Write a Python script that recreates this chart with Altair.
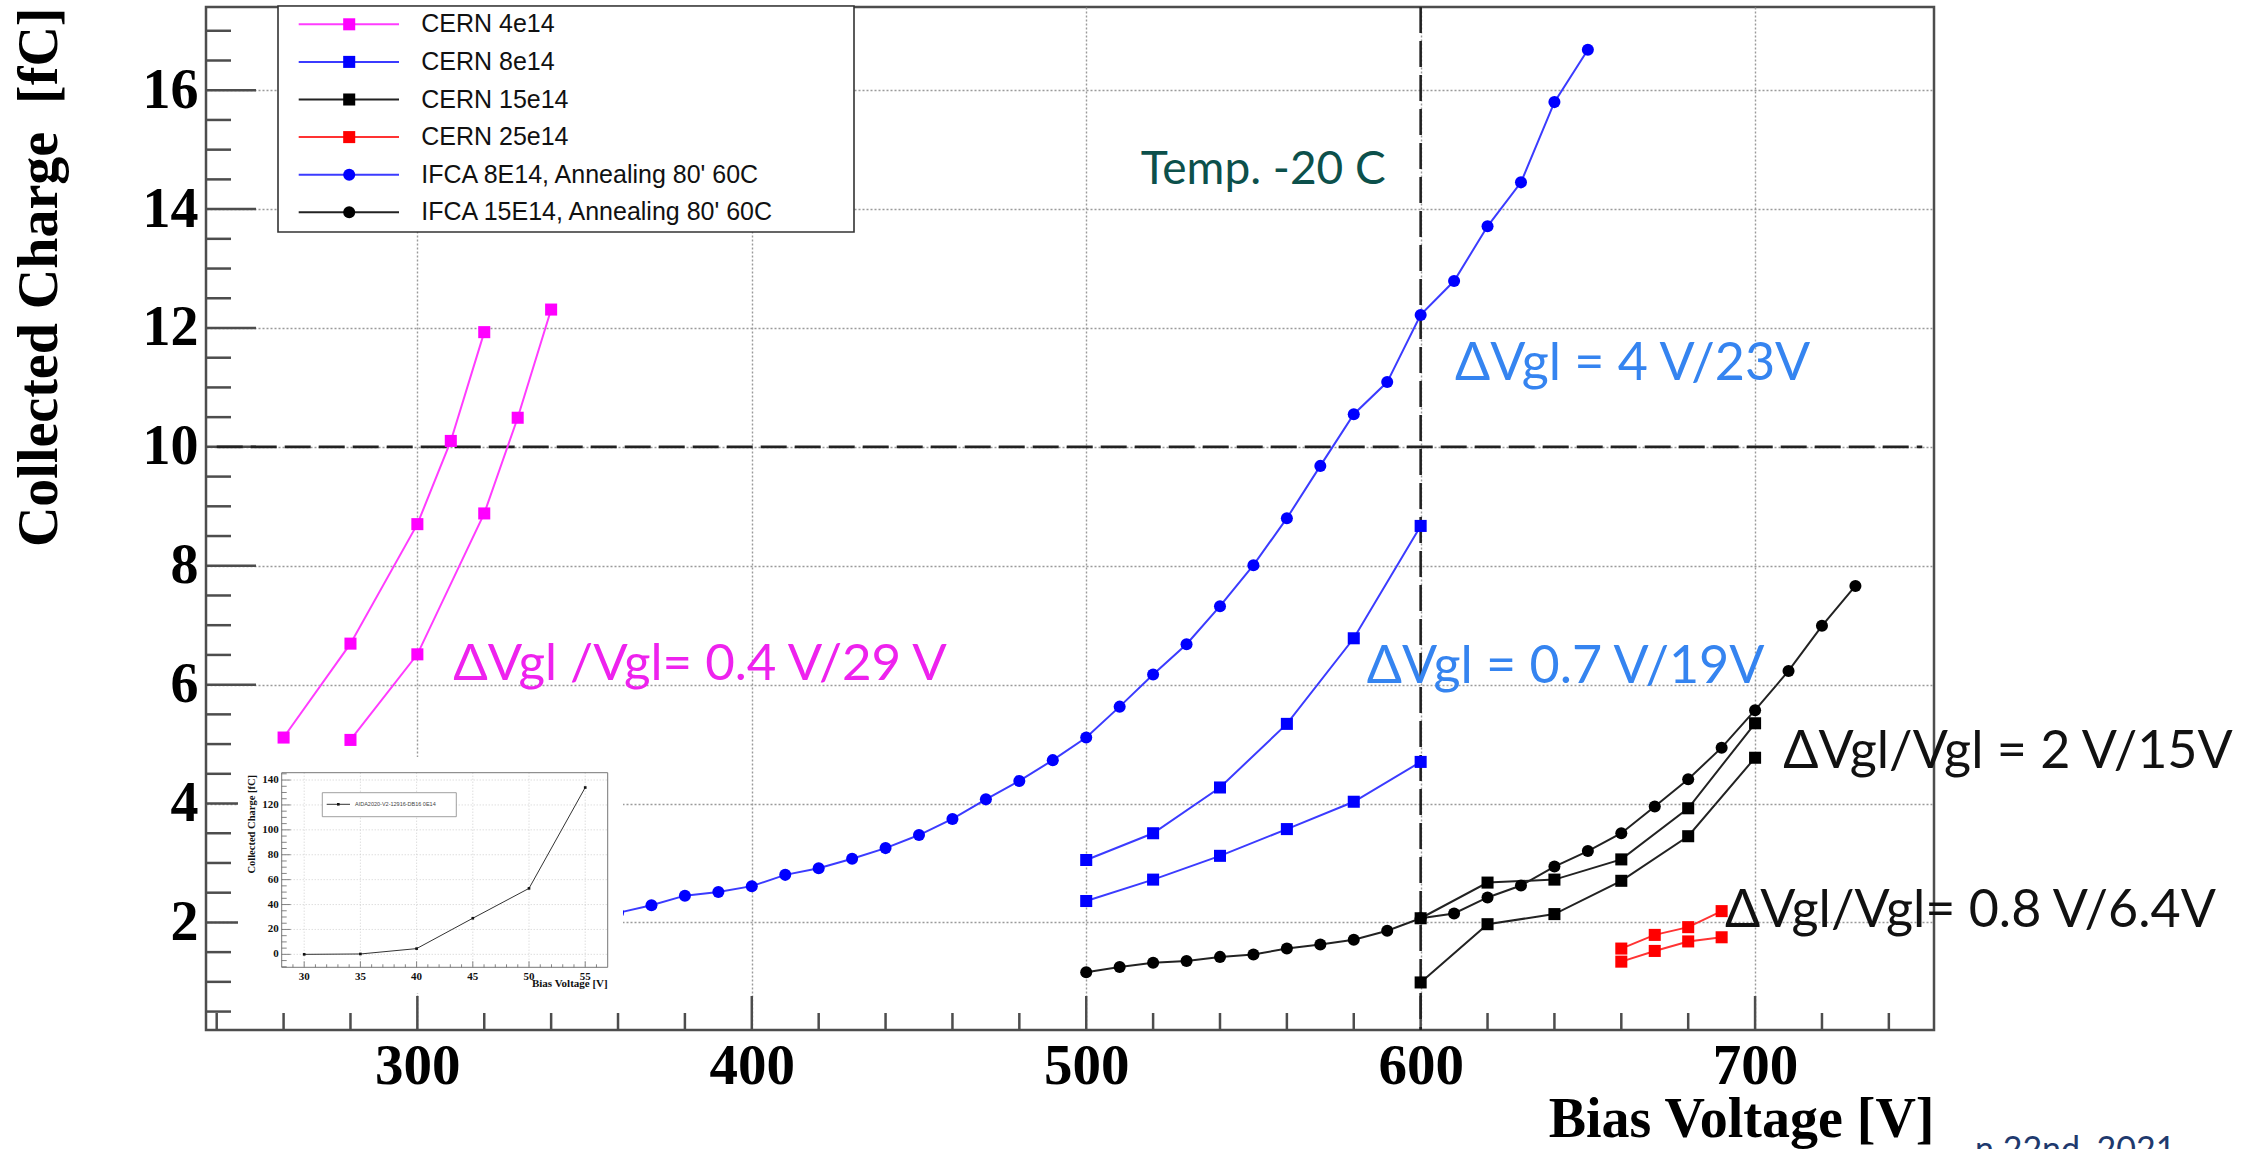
import altair as alt
import pandas as pd

# ---------------------------------------------------------------- data ----
# CERN 4e14 (two devices)
cern4_a_v = [260, 280, 300, 310, 320]
cern4_a_q = [5.11, 6.69, 8.70, 10.10, 11.93]
cern4_b_v = [280, 300, 320, 330, 340]
cern4_b_q = [5.07, 6.51, 8.88, 10.49, 12.31]

# CERN 8e14 (two devices)
cern8_a_v = [500, 520, 540, 560, 580, 600]
cern8_a_q = [3.05, 3.50, 4.27, 5.34, 6.78, 8.67]
cern8_b_v = [500, 520, 540, 560, 580, 600]
cern8_b_q = [2.36, 2.72, 3.12, 3.57, 4.03, 4.70]

# CERN 15e14 (two devices)
cern15_a_v = [600, 620, 640, 660, 680, 700]
cern15_a_q = [2.07, 2.67, 2.72, 3.06, 3.92, 5.35]
cern15_b_v = [600, 620, 640, 660, 680, 700]
cern15_b_q = [0.99, 1.97, 2.14, 2.70, 3.45, 4.77]

# CERN 25e14 (two devices)
cern25_a_v = [660, 670, 680, 690]
cern25_a_q = [1.56, 1.79, 1.92, 2.19]
cern25_b_v = [660, 670, 680, 690]
cern25_b_q = [1.34, 1.52, 1.68, 1.75]

# IFCA 8E14, annealed 80' at 60C
ifca8_v = [360, 370, 380, 390, 400, 410, 420, 430, 440, 450, 460, 470, 480,
           490, 500, 510, 520, 530, 540, 550, 560, 570, 580, 590, 600, 610,
           620, 630, 640, 650]
ifca8_q = [2.16, 2.29, 2.45, 2.51, 2.61, 2.80, 2.91, 3.07, 3.25, 3.47, 3.74,
           4.07, 4.38, 4.73, 5.11, 5.63, 6.17, 6.68, 7.32, 8.01, 8.80, 9.68,
           10.55, 11.09, 12.22, 12.79, 13.71, 14.45, 15.80, 16.68]

# IFCA 15E14, annealed 80' at 60C
ifca15_v = [500, 510, 520, 530, 540, 550, 560, 570, 580, 590, 600, 610, 620,
            630, 640, 650, 660, 670, 680, 690, 700, 710, 720, 730]
ifca15_q = [1.16, 1.25, 1.32, 1.35, 1.42, 1.46, 1.56, 1.63, 1.71, 1.86, 2.07,
            2.15, 2.42, 2.62, 2.94, 3.20, 3.50, 3.95, 4.41, 4.94, 5.57, 6.23,
            6.99, 7.66]

# unirradiated reference sample (small panel)
inset_v = [30, 35, 40, 45, 50, 55]
inset_q = [0.0, 0.3, 4.6, 29.0, 53.0, 134.0]
inset_label = "AIDA2020-V2-12916-DB16 0E14"

# axis tick values
x_major = [300, 400, 500, 600, 700]
x_minor = [240, 260, 280, 320, 340, 360, 380, 420, 440, 460, 480, 520, 540,
           560, 580, 620, 640, 660, 680, 720, 740]
y_major = [2, 4, 6, 8, 10, 12, 14, 16]
y_minor = [0.5, 1, 1.5, 2.5, 3, 3.5, 4.5, 5, 5.5, 6.5, 7, 7.5, 8.5, 9, 9.5,
           10.5, 11, 11.5, 12.5, 13, 13.5, 14.5, 15, 15.5, 16.5, 17]

inset_x_major = [30, 35, 40, 45, 50, 55]
inset_x_minor = [29, 31, 32, 33, 34, 36, 37, 38, 39, 41, 42, 43, 44, 46, 47,
                 48, 49, 51, 52, 53, 54, 56]
inset_y_major = [0, 20, 40, 60, 80, 100, 120, 140]
inset_y_minor = [-10, -5, 5, 10, 15, 25, 30, 35, 45, 50, 55, 65, 70, 75, 85,
                 90, 95, 105, 110, 115, 125, 130, 135, 145]

# annotations
notes_text = ["Temp. -20 C", "\u0394Vgl = 4 V/23V", "\u0394Vgl /Vgl= 0.4 V/29 V",
              "\u0394Vgl = 0.7 V/19V", "\u0394Vgl/Vgl = 2 V/15V",
              "\u0394Vgl/Vgl= 0.8 V/6.4V"]
notes_v = [516.3, 610.3, 310.7, 583.9, 708.4, 691.0]
notes_q = [14.43, 11.13, 6.08, 6.02, 4.59, 1.93]
notes_color = ["#0c504b", "#3584f0", "#ee22ee", "#3584f0", "#111111", "#111111"]
notes_size = [46, 52, 51, 52, 52, 52]

# ------------------------------------------------------------- styles ----
legend_order = ["CERN 4e14", "CERN 8e14", "CERN 15e14", "CERN 25e14",
                "IFCA 8E14, Annealing 80' 60C", "IFCA 15E14, Annealing 80' 60C"]
style = {
    "CERN 4e14": ("#ff00ff", "#ff3cff", "square"),
    "CERN 8e14": ("#0000ff", "#3b3bff", "square"),
    "CERN 15e14": ("#000000", "#222222", "square"),
    "CERN 25e14": ("#ff0000", "#ff3333", "square"),
    "IFCA 8E14, Annealing 80' 60C": ("#0000ff", "#3b3bff", "circle"),
    "IFCA 15E14, Annealing 80' 60C": ("#000000", "#222222", "circle"),
}

curves = [
    ("CERN 4e14", "a", cern4_a_v, cern4_a_q),
    ("CERN 4e14", "b", cern4_b_v, cern4_b_q),
    ("CERN 8e14", "a", cern8_a_v, cern8_a_q),
    ("CERN 8e14", "b", cern8_b_v, cern8_b_q),
    ("CERN 15e14", "a", cern15_a_v, cern15_a_q),
    ("CERN 15e14", "b", cern15_b_v, cern15_b_q),
    ("CERN 25e14", "a", cern25_a_v, cern25_a_q),
    ("CERN 25e14", "b", cern25_b_v, cern25_b_q),
    ("IFCA 8E14, Annealing 80' 60C", "a", ifca8_v, ifca8_q),
    ("IFCA 15E14, Annealing 80' 60C", "a", ifca15_v, ifca15_q),
]

rows = []
for name, dev, vs, qs in curves:
    col, lcol, shp = style[name]
    for v, q in zip(vs, qs):
        rows.append({"V": v, "Q": q, "series": name, "curve": name + "/" + dev,
                     "col": col, "lcol": lcol, "shape": shp})
df = pd.DataFrame(rows)

# ---------------------------------------------------------- geometry ----
W, H = 1728, 1023
X_DOM = [236.8, 753.5]
Y_DOM = [0.19, 17.40]
SERIF = "Liberation Serif"
FRAME = "#4d4d4d"
MARK_SIZE = 145

xs = alt.Scale(domain=X_DOM, nice=False, zero=False)
ys = alt.Scale(domain=Y_DOM, nice=False, zero=False)

x_axis = alt.Axis(
    values=x_major, format="d", labelFont=SERIF, labelFontWeight="bold",
    labelFontSize=57, labelColor="black", labelPadding=8, labelFlush=False,
    ticks=False, tickSize=0, domain=False, grid=True, gridColor="#9a9a9a",
    gridDash=[2, 2], gridWidth=1.4, title="Bias Voltage [V]", titleFont=SERIF,
    titleFontWeight="bold", titleFontSize=56, titleColor="black",
    titleAnchor="end", titleAlign="right", titleBaseline="alphabetic",
    titleX=W, titleY=106,
)
y_axis = alt.Axis(
    values=y_major, format="d", labelFont=SERIF, labelFontWeight="bold",
    labelFontSize=56, labelColor="black", labelPadding=8, labelFlush=False,
    ticks=False, tickSize=0, domain=False, grid=True, gridColor="#9a9a9a",
    gridDash=[2, 2], gridWidth=1.4, title="Collected Charge\u00a0 [fC]",
    titleFont=SERIF, titleFontWeight="bold", titleFontSize=56,
    titleColor="black", titleAngle=270, titleAlign="right",
    titleBaseline="alphabetic", titleX=-150, titleY=0,
)
X = alt.X("V:Q", scale=xs, axis=x_axis)
Y = alt.Y("Q:Q", scale=ys, axis=y_axis)

# ------------------------------------------------------------- main ----
one = pd.DataFrame({"k": [0]})

y_ticks_major = alt.Chart(pd.DataFrame({"Q": y_major})).mark_rule(
    color=FRAME, strokeWidth=2.5).encode(y=Y, x=alt.value(0), x2=alt.value(50))
y_ticks_minor = alt.Chart(pd.DataFrame({"Q": y_minor})).mark_rule(
    color=FRAME, strokeWidth=2.5).encode(y=Y, x=alt.value(0), x2=alt.value(25))
x_ticks_major = alt.Chart(pd.DataFrame({"V": x_major})).mark_rule(
    color=FRAME, strokeWidth=2.5).encode(x=X, y=alt.value(H), y2=alt.value(H - 34))
x_ticks_minor = alt.Chart(pd.DataFrame({"V": x_minor})).mark_rule(
    color=FRAME, strokeWidth=2.5).encode(x=X, y=alt.value(H), y2=alt.value(H - 17))

h_ref = alt.Chart(pd.DataFrame({"V": [240], "V2": [750], "Q": [10]})).mark_rule(
    color="#222222", strokeWidth=2.6, strokeDash=[26, 8]).encode(x=X, x2="V2:Q", y=Y)
v_ref = alt.Chart(pd.DataFrame({"V": [600]})).mark_rule(
    color="#222222", strokeWidth=2.6, strokeDash=[26, 8]).encode(
    x=X, y=alt.value(0), y2=alt.value(H))

lines = alt.Chart(df).mark_line(strokeWidth=2).encode(
    x=X, y=Y, detail="curve:N", color=alt.Color("lcol:N", scale=None))
points = alt.Chart(df).mark_point(filled=True, opacity=1, size=MARK_SIZE).encode(
    x=X, y=Y, color=alt.Color("col:N", scale=None),
    shape=alt.Shape("shape:N", scale=None))

notes = pd.DataFrame({"text": notes_text, "V": notes_v, "Q": notes_q,
                      "col": notes_color, "fs": notes_size})
note_marks = alt.Chart(notes).mark_text(
    font="Lato", align="left", baseline="alphabetic").encode(
    x=X, y=Y, text="text:N", color=alt.Color("col:N", scale=None),
    size=alt.Size("fs:Q", scale=None))

footer = alt.Chart(one).mark_text(
    text="n 22nd, 2021", font="Lato", fontSize=34, color="#1f3a6e",
    align="left", baseline="alphabetic").encode(x=alt.value(1769), y=alt.value(1154))

main = alt.layer(y_ticks_major, y_ticks_minor, x_ticks_major, x_ticks_minor,
                 h_ref, v_ref, lines, points, note_marks, footer)

# ------------------------------------------------------ small panel ----
IL, IR, IT, IB = 75.7, 401.7, 765.7, 960.3
ixs = alt.Scale(domain=[28, 57], range=[IL, IR], nice=False, zero=False)
iys = alt.Scale(domain=[-10.4, 145.9], range=[IB, IT], nice=False, zero=False)
IX = alt.X("iv:Q", scale=ixs, axis=None)
IY = alt.Y("iq:Q", scale=iys, axis=None)

inset_df = pd.DataFrame({"iv": inset_v, "iq": inset_q})
ixm = pd.DataFrame({"iv": inset_x_major, "lab": [str(v) for v in inset_x_major]})
iym = pd.DataFrame({"iq": inset_y_major, "lab": [str(v) for v in inset_y_major]})

inset_bg = alt.Chart(one).mark_rect(fill="white").encode(
    x=alt.value(32), x2=alt.value(417), y=alt.value(750), y2=alt.value(986))
inset_gx = alt.Chart(ixm).mark_rule(color="#c4c4c4", strokeDash=[1, 2],
                                    strokeWidth=0.8).encode(
    x=IX, y=alt.value(IT), y2=alt.value(IB))
inset_gy = alt.Chart(iym).mark_rule(color="#c4c4c4", strokeDash=[1, 2],
                                    strokeWidth=0.8).encode(
    y=IY, x=alt.value(IL), x2=alt.value(IR))
inset_frame = alt.Chart(one).mark_rect(fillOpacity=0, stroke="#777777",
                                       strokeWidth=1).encode(
    x=alt.value(IL), x2=alt.value(IR), y=alt.value(IT), y2=alt.value(IB))
inset_tx1 = alt.Chart(ixm).mark_rule(color="#666666", strokeWidth=0.8).encode(
    x=IX, y=alt.value(IB), y2=alt.value(IB - 6))
inset_tx2 = alt.Chart(pd.DataFrame({"iv": inset_x_minor})).mark_rule(
    color="#666666", strokeWidth=0.8).encode(x=IX, y=alt.value(IB), y2=alt.value(IB - 3))
inset_ty1 = alt.Chart(iym).mark_rule(color="#666666", strokeWidth=0.8).encode(
    y=IY, x=alt.value(IL), x2=alt.value(IL + 9))
inset_ty2 = alt.Chart(pd.DataFrame({"iq": inset_y_minor})).mark_rule(
    color="#666666", strokeWidth=0.8).encode(y=IY, x=alt.value(IL), x2=alt.value(IL + 5))
inset_line = alt.Chart(inset_df).mark_line(color="#333333", strokeWidth=1).encode(
    x=IX, y=IY)
inset_pts = alt.Chart(inset_df).mark_point(filled=True, opacity=1, shape="square",
                                           size=7, color="#111111").encode(x=IX, y=IY)
inset_xl = alt.Chart(ixm).mark_text(font=SERIF, fontWeight="bold", fontSize=11,
                                    baseline="top", color="#111111").encode(
    x=IX, y=alt.value(IB + 3.5), text="lab:N")
inset_yl = alt.Chart(iym).mark_text(font=SERIF, fontWeight="bold", fontSize=11,
                                    align="right", baseline="middle",
                                    color="#111111").encode(
    y=IY, x=alt.value(IL - 3), text="lab:N")
inset_yt = alt.Chart(one).mark_text(
    text="Collected Charge [fC]", font=SERIF, fontWeight="bold", fontSize=10.5,
    angle=270, align="right", baseline="alphabetic", color="#111111").encode(
    x=alt.value(49), y=alt.value(768))
inset_xt = alt.Chart(one).mark_text(
    text="Bias Voltage [V]", font=SERIF, fontWeight="bold", fontSize=11,
    align="right", baseline="alphabetic", color="#111111").encode(
    x=alt.value(IR), y=alt.value(980.3))
inset_lbox = alt.Chart(one).mark_rect(fill="white", stroke="#888888",
                                      strokeWidth=0.8).encode(
    x=alt.value(116.3), x2=alt.value(250.3), y=alt.value(785.7), y2=alt.value(809.7))
inset_lline = alt.Chart(one).mark_rule(color="#333333", strokeWidth=1).encode(
    x=alt.value(120.7), x2=alt.value(144), y=alt.value(797.3))
inset_lpt = alt.Chart(one).mark_point(filled=True, opacity=1, shape="square",
                                      size=7, color="#111111").encode(
    x=alt.value(132.3), y=alt.value(797.3))
inset_ltxt = alt.Chart(one).mark_text(
    text=inset_label, font="Liberation Sans", fontSize=5.5, align="left",
    baseline="middle", color="#444444").encode(x=alt.value(149), y=alt.value(797.3))

inset = alt.layer(inset_bg, inset_gx, inset_gy, inset_frame, inset_tx1, inset_tx2,
                  inset_ty1, inset_ty2, inset_line, inset_pts, inset_xl, inset_yl,
                  inset_yt, inset_xt, inset_lbox, inset_lline, inset_lpt, inset_ltxt)

# ------------------------------------------------------------ legend ----
leg = pd.DataFrame({
    "row": list(range(len(legend_order))),
    "label": legend_order,
    "col": [style[n][0] for n in legend_order],
    "lcol": [style[n][1] for n in legend_order],
    "shape": [style[n][2] for n in legend_order],
})
LY = alt.Y("row:Q", scale=alt.Scale(domain=[0, 5], range=[17.3, 205.3],
                                    nice=False, zero=False), axis=None)

leg_box = alt.Chart(one).mark_rect(fill="white", stroke="#333333",
                                   strokeWidth=1.6).encode(
    x=alt.value(72), x2=alt.value(648), y=alt.value(-1), y2=alt.value(225))
leg_lines = alt.Chart(leg).mark_rule(strokeWidth=2).encode(
    y=LY, x=alt.value(92.7), x2=alt.value(193),
    color=alt.Color("lcol:N", scale=None))
leg_pts = alt.Chart(leg).mark_point(filled=True, opacity=1, size=MARK_SIZE).encode(
    y=LY, x=alt.value(143.2), color=alt.Color("col:N", scale=None),
    shape=alt.Shape("shape:N", scale=None))
leg_txt = alt.Chart(leg).mark_text(font="Liberation Sans", fontSize=25,
                                   align="left", baseline="middle",
                                   color="#111111").encode(
    y=LY, x=alt.value(215.2), text="label:N")

legend = alt.layer(leg_box, leg_lines, leg_pts, leg_txt)

# ------------------------------------------------------------- chart ----
chart = alt.layer(main, inset, legend).resolve_scale(
    x="independent", y="independent"
).properties(
    width=W, height=H,
    autosize=alt.AutoSizeParams(type="none"),
    padding={"left": 206, "top": 7, "right": 321, "bottom": 119},
    background="white",
).configure_view(stroke=FRAME, strokeWidth=2.5)

chart.save("out.html", embed_options={"renderer": "svg", "actions": False})
